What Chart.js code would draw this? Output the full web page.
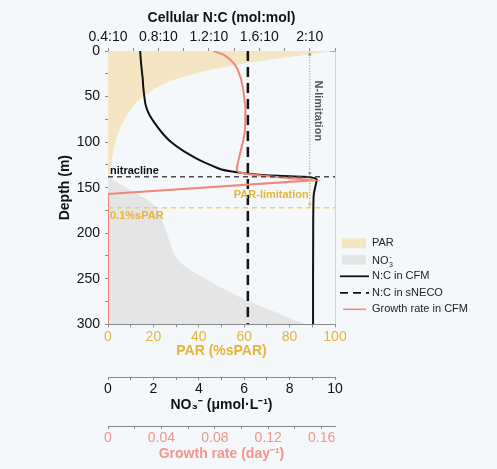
<!DOCTYPE html>
<html><head><meta charset="utf-8">
<script src="https://cdn.jsdelivr.net/npm/chart.js@4.4.0/dist/chart.umd.min.js"></script>
<style>
html,body{margin:0;padding:0;background:#f5f8fa;}
#wrap{width:497px;height:469px;position:relative;}
</style>
</head><body><div id="wrap"><canvas id="c"></canvas></div>
<script>
// ---------- data ----------
const depthPAR = [0,2,5,10,15,20,25,30,35,40,45,50,60,70,80,90,100,110,120,130,140,150,160,170,180,200,250,300];
const parValues = [100,94,85,70,57,46,38,31,25.5,21.5,18.5,15.5,11.5,8.5,6.2,4.5,3.3,2.4,1.7,1.2,0.8,0.5,0.3,0.15,0.08,0.03,0,0];

const depthNO3 = [0,137,140,145,150,155,160,165,170,175,180,185,190,200,210,220,230,240,250,260,270,280,290,300];
const no3Values = [0,0,0.15,0.45,0.8,1.15,1.5,1.83,2.05,2.2,2.3,2.37,2.45,2.6,2.72,2.88,3.1,3.6,4.3,5.0,5.8,6.7,7.7,8.7];

const depthNC = [0,10,20,30,40,50,60,70,80,90,100,110,120,125,130,132,134,136,137,138,139,141,145,160,200,250,300];
const ncCFM = [0.655,0.66,0.667,0.675,0.68,0.688,0.70,0.728,0.775,0.83,0.90,1.00,1.13,1.21,1.30,1.37,1.47,1.62,1.75,1.95,2.02,2.055,2.05,2.03,2.027,2.026,2.026];

const depthSNECO = [0,300];
const ncSNECO = [1.509,1.509];

const depthGR = [0,2,4,7,10,15,20,30,40,50,65,80,90,100,110,120,128,131,133,135,137,139,141,142,157,300];
const growthCFM = [0.079,0.083,0.0865,0.0895,0.092,0.095,0.097,0.0995,0.101,0.102,0.103,0.1028,0.1024,0.101,0.0993,0.0977,0.0965,0.0966,0.098,0.104,0.116,0.132,0.148,0.153,0,0];

const depthTicks = [0,25,50,75,100,125,150,175,200,225,250,275,300];
const depthTickLabels = ['0','','50','','100','','150','','200','','250','','300'];
const ncTicks = [0.4,0.6,0.8,1.0,1.2,1.4,1.6,1.8,2.0,2.2];
const ncTickLabels = ['0.4:10','','0.8:10','','1.2:10','','1.6:10','','2:10',''];
const parTicks = [0,10,20,30,40,50,60,70,80,90,100];
const parTickLabels = ['0','','20','','40','','60','','80','','100'];
const no3Ticks = [0,1,2,3,4,5,6,7,8,9,10];
const no3TickLabels = ['0','','2','','4','','6','','8','','10'];
const grTicks = [0,0.02,0.04,0.06,0.08,0.10,0.12,0.14,0.16];
const grTickLabels = ['0','','0.04','','0.08','','0.12','','0.16'];

const nitraclineDepth = 138;
const sparDepth = 172;
const arrowNC = 2.0;
const legendLabels = ['PAR','NO3','N:C in CFM','N:C in sNECO','Growth rate in CFM'];

// ---------- style ----------
const FONT = '"Liberation Sans", Arial, Helvetica, sans-serif';
const PAR_FILL = '#f4e5c3';
const NO3_FILL = '#e5e5e5';
const BLACK = '#111111';
const SALMON = '#f0877a';
const SALMON_TXT = '#f0968b';
const GOLD = '#e5b43a';
const GOLD_LINE = '#efd060';
const AXIS = '#8a8a8a';

Chart.defaults.font.family = FONT;
Chart.defaults.color = BLACK;

function pts(ds, vs){ return ds.map((d,i)=>({x: vs[i], y: d})); }
function setTicks(arr){ return s => { s.ticks = arr.map(v=>({value:v})); }; }

function hAxis(opts){
  return {
    type:'linear', position: opts.position, weight: opts.weight, min: opts.min, max: opts.max,
    afterBuildTicks: setTicks(opts.ticks),
    afterFit: s => { s.height = opts.height; },
    grid:{drawOnChartArea:false, drawTicks:true, tickLength:3, color:AXIS, tickColor:AXIS},
    border:{display:true, color:AXIS, width:1},
    ticks:{autoSkip:false, maxRotation:0, minRotation:0, padding:opts.tpad, color:opts.color, font:{size:14},
      callback:(v,i)=>opts.labels[i]},
    title:{display:true, text:opts.title, color:opts.titleColor, font:{size:14, weight:'bold'}, padding:opts.titlePad}
  };
}

function line(ctx,x1,y1,x2,y2){ ctx.beginPath(); ctx.moveTo(x1,y1); ctx.lineTo(x2,y2); ctx.stroke(); }
function tri(ctx,x,y,dir,s){ // dir: -1 up, 1 down
  ctx.beginPath(); ctx.moveTo(x, y); ctx.lineTo(x-s*0.8, y-dir*s*1.6); ctx.lineTo(x+s*0.8, y-dir*s*1.6); ctx.closePath(); ctx.fill();
}
function drawNO3(ctx, x, y, size){ // y = baseline
  ctx.font = size+'px '+FONT;
  ctx.textAlign='left'; ctx.textBaseline='alphabetic';
  ctx.fillText('NO', x, y);
  const w = ctx.measureText('NO').width;
  ctx.font = Math.round(size*0.6)+'px '+FONT;
  ctx.fillText('3', x+w+0.5, y+3);
  ctx.fillText('-', x+w+1, y-5);
}

const annot = {
  id:'annot',
  afterDatasetsDraw(chart){
    const {ctx, chartArea:ca, scales} = chart;
    const Y = scales.y, XNC = scales.xNC;
    ctx.save();
    // right frame
    ctx.strokeStyle='#d2d5d8'; ctx.lineWidth=1;
    line(ctx, ca.right+0.5, ca.top, ca.right+0.5, ca.bottom);
    const yN = Y.getPixelForValue(nitraclineDepth);
    const yP = Y.getPixelForValue(sparDepth);
    const xA = XNC.getPixelForValue(arrowNC);
    // nitracline
    ctx.setLineDash([5,4]); ctx.lineWidth=1.5; ctx.strokeStyle='#4a4a4a';
    line(ctx, ca.left, yN, ca.right, yN);
    // 0.1% sPAR
    ctx.strokeStyle=GOLD_LINE;
    line(ctx, ca.left, yP, ca.right, yP);
    // N-limitation dotted arrow
    ctx.setLineDash([1.2,1.6]); ctx.lineWidth=1; ctx.strokeStyle='#9a9a9a';
    line(ctx, xA, ca.top+3, xA, yN-3);
    ctx.setLineDash([]); ctx.fillStyle='#8a8a8a';
    tri(ctx, xA, ca.top+1, -1, 2.2); tri(ctx, xA, yN-1, 1, 2.2);
    // PAR-limitation dotted arrow
    ctx.setLineDash([1.5,1.5]); ctx.lineWidth=1.3; ctx.strokeStyle=GOLD;
    line(ctx, xA, yN+3, xA, yP-3);
    ctx.setLineDash([]); ctx.fillStyle=GOLD;
    tri(ctx, xA, yN+1, -1, 2.2); tri(ctx, xA, yP-1, 1, 2.2);
    // texts
    ctx.font='bold 11px '+FONT; ctx.textBaseline='alphabetic';
    ctx.fillStyle=BLACK; ctx.textAlign='left';
    ctx.fillText('nitracline', ca.left+2, yN-3);
    ctx.fillStyle=GOLD;
    ctx.fillText('0.1%sPAR', ca.left+2, yP+11);
    ctx.textAlign='right';
    ctx.fillText('PAR-limitation', xA-1, (yN+yP)/2+6);
    // N-limitation rotated
    ctx.save();
    ctx.translate(xA+8, (ca.top+yN)/2-3);
    ctx.rotate(Math.PI/2);
    ctx.fillStyle='#555555'; ctx.textAlign='center'; ctx.textBaseline='middle';
    ctx.fillText('N-limitation', 0, 0);
    ctx.restore();
    ctx.restore();
  },
  afterDraw(chart){
    const {ctx, chartArea:ca} = chart;
    ctx.save();
    const bx = ca.right+7, tx = ca.right+37;
    const y0 = ca.bottom-81, step = 16.5;
    ctx.fillStyle=BLACK;
    legendLabels.forEach((lab,i)=>{
      const y = y0 + i*step;
      if(i===0){ ctx.fillStyle=PAR_FILL; ctx.fillRect(bx, y-5, 24, 10); }
      if(i===1){ ctx.fillStyle=NO3_FILL; ctx.fillRect(bx, y-5, 24, 10); }
      if(i===2){ ctx.strokeStyle=BLACK; ctx.lineWidth=1.8; ctx.setLineDash([]); line(ctx, bx-2, y, bx+27, y); }
      if(i===3){ ctx.strokeStyle=BLACK; ctx.lineWidth=1.8; ctx.setLineDash([8,5]); line(ctx, bx-2, y, bx+27, y); ctx.setLineDash([]); }
      if(i===4){ ctx.strokeStyle=SALMON; ctx.lineWidth=1.5; line(ctx, bx+1, y, bx+24, y); }
      ctx.fillStyle='#222';
      if(lab==='NO3'){ drawNO3(ctx, tx, y+4, 11); }
      else { ctx.font='11px '+FONT; ctx.textAlign='left'; ctx.textBaseline='middle'; ctx.fillText(lab, tx, y); }
    });
    ctx.restore();
  }
};

new Chart(document.getElementById('c'), {
  type:'line',
  data:{ datasets:[
    {label:'PAR', data:pts(depthPAR, parValues), xAxisID:'xPAR', yAxisID:'y', fill:'origin',
     backgroundColor:PAR_FILL, borderWidth:0, pointRadius:0, cubicInterpolationMode:'monotone', order:10},
    {label:'NO3', data:pts(depthNO3, no3Values), xAxisID:'xNO3', yAxisID:'y', fill:'origin',
     backgroundColor:NO3_FILL, borderWidth:0, pointRadius:0, cubicInterpolationMode:'monotone', order:9},
    {label:'N:C in sNECO', data:pts(depthSNECO, ncSNECO), xAxisID:'xNC', yAxisID:'y', fill:false,
     borderColor:BLACK, borderWidth:2.5, borderDash:[10,6], pointRadius:0, order:3},
    {label:'N:C in CFM', data:pts(depthNC, ncCFM), xAxisID:'xNC', yAxisID:'y', fill:false,
     borderColor:BLACK, borderWidth:2, pointRadius:0, cubicInterpolationMode:'monotone', order:2},
    {label:'Growth rate in CFM', data:pts(depthGR, growthCFM), xAxisID:'xGR', yAxisID:'y', fill:false,
     borderColor:SALMON, borderWidth:2, pointRadius:0, tension:0, order:1}
  ]},
  options:{
    indexAxis:'y',
    responsive:true, maintainAspectRatio:false, animation:false,
    layout:{padding:{left:0, top:0, right:162, bottom:0}},
    plugins:{legend:{display:false}, tooltip:{enabled:false}},
    scales:{
      y:{type:'linear', position:'left', reverse:true, min:0, max:300,
        afterBuildTicks:setTicks(depthTicks),
        afterFit: s => { s.width = 108; },
        grid:{drawOnChartArea:false, drawTicks:true, tickLength:3, color:AXIS, tickColor:AXIS},
        border:{display:true, color:AXIS, width:1},
        ticks:{autoSkip:false, padding:5, color:BLACK, font:{size:14}, callback:(v,i)=>depthTickLabels[i]},
        title:{display:true, text:'Depth (m)', color:BLACK, font:{size:14, weight:'bold'}, padding:{top:56.6, bottom:0}}
      },
      xNC: hAxis({position:'top', weight:1, min:0.4, max:2.2, ticks:ncTicks, labels:ncTickLabels, height:51, tpad:2,
        color:BLACK, title:'Cellular N:C (mol:mol)', titleColor:BLACK, titlePad:{top:9.6, bottom:0}}),
      xPAR: hAxis({position:'bottom', weight:1, min:0, max:100, ticks:parTicks, labels:parTickLabels, height:52.7, tpad:1,
        color:GOLD, title:'PAR (%sPAR)', titleColor:GOLD, titlePad:{top:0, bottom:17}}),
      xNO3: hAxis({position:'bottom', weight:2, min:0, max:10, ticks:no3Ticks, labels:no3TickLabels, height:49, tpad:1,
        color:BLACK, title:'NO\u2083\u207B (\u03BCmol\u00B7L\u207B\u00B9)', titleColor:BLACK, titlePad:{top:0, bottom:12.9}}),
      xGR: hAxis({position:'bottom', weight:3, min:0, max:0.17, ticks:grTicks, labels:grTickLabels, height:43, tpad:1,
        color:SALMON_TXT, title:'Growth rate (day\u207B\u00B9)', titleColor:SALMON_TXT, titlePad:{top:0, bottom:6.6}})
    }
  },
  plugins:[annot]
});
</script>
</body></html>
